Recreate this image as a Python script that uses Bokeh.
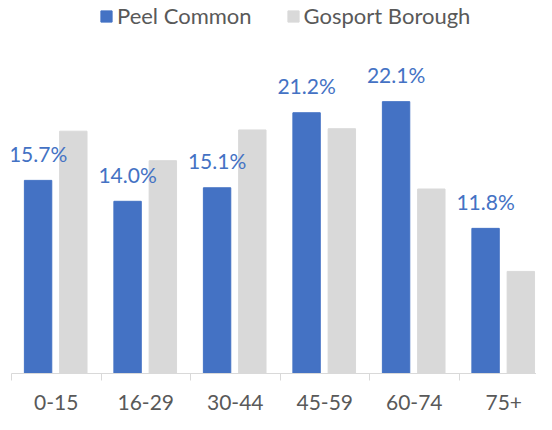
from bokeh.plotting import figure
from bokeh.models import Range1d, FixedTicker, ColumnDataSource, Legend, LegendItem
from bokeh.transform import dodge
from bokeh.core.properties import value
from bokeh.embed import file_html
from bokeh.resources import INLINE

categories = ["0-15", "16-29", "30-44", "45-59", "60-74", "75+"]
peel_common = [15.7, 14.0, 15.1, 21.2, 22.1, 11.8]
gosport_borough = [19.7, 17.3, 19.8, 19.9, 15.0, 8.3]
series_names = ["Peel Common", "Gosport Borough"]

BLUE = "#4472C4"
GREY = "#D9D9D9"
TEXT = "#595959"
FONT = "Lato"
FS = "21px"

centers = [i + 0.5 for i in range(len(categories))]
labels = [f"{v:.1f}%" for v in peel_common]
src = ColumnDataSource(dict(x=centers, peel=peel_common, gos=gosport_borough, lab=labels))

FRAME_H = 414 - 41
p = figure(width=536, height=414, output_backend="svg", toolbar_location=None,
           x_range=Range1d(0, 525 / 89.5), y_range=Range1d(0, FRAME_H / 12.3),
           y_axis_location=None,
           min_border_left=11, min_border_right=0, min_border_top=0, min_border_bottom=41)
p.outline_line_color = None
p.grid.visible = False
p.background_fill_color = "white"

r1 = p.vbar(x=dodge("x", -0.203, range=p.x_range), top="peel", width=0.306, source=src,
            fill_color=BLUE, line_color=BLUE)
r2 = p.vbar(x=dodge("x", 0.191, range=p.x_range), top="gos", width=0.306, source=src,
            fill_color=GREY, line_color=GREY)

p.text(x=dodge("x", -0.203, range=p.x_range), y="peel", text="lab", source=src,
       text_align="center", text_baseline="alphabetic", y_offset=-27,
       text_font=value(FONT), text_font_size=FS, text_color=BLUE)

ax = p.xaxis[0]
ax.ticker = FixedTicker(ticks=centers, minor_ticks=list(range(len(categories) + 1)))
ax.major_label_overrides = {c: lab for c, lab in zip(centers, categories)}
ax.major_tick_out = 0
ax.major_tick_in = 0
ax.minor_tick_out = 7
ax.minor_tick_in = 0
ax.minor_tick_line_color = GREY
ax.axis_line_color = GREY
ax.major_label_standoff = 14
ax.major_label_text_font = FONT
ax.major_label_text_font_size = FS
ax.major_label_text_color = TEXT

legend = Legend(items=[LegendItem(label=series_names[0], renderers=[r1]),
                       LegendItem(label=series_names[1], renderers=[r2])],
                orientation="horizontal", location=(88, FRAME_H - 29),
                padding=0, margin=0, spacing=34, label_standoff=4,
                glyph_width=14, glyph_height=14,
                border_line_color=None, background_fill_alpha=0,
                label_text_font=FONT, label_text_font_size="22px", label_text_color=TEXT)
p.add_layout(legend)

open("out.html", "w").write(file_html(p, INLINE))
